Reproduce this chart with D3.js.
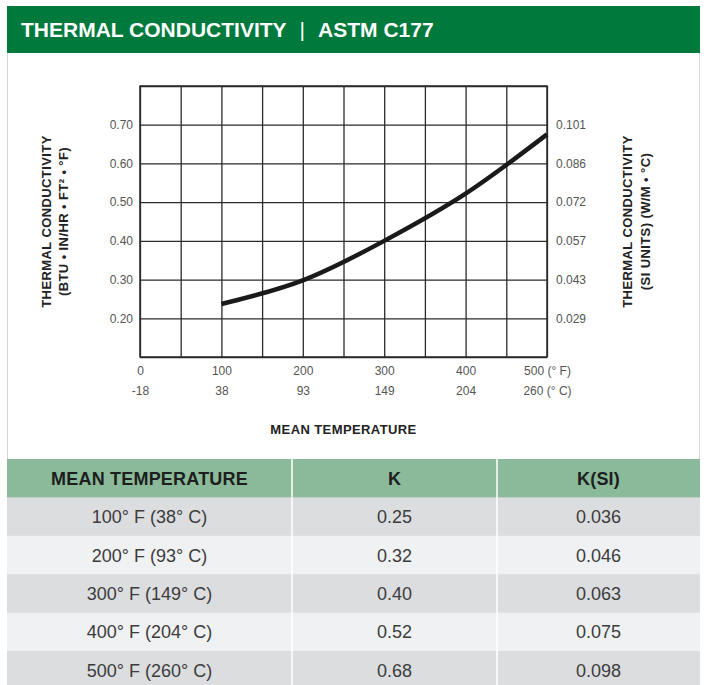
<!DOCTYPE html>
<html>
<head>
<meta charset="utf-8">
<script src="https://cdn.jsdelivr.net/npm/d3@7"></script>
<style>
  body { margin: 0; background: #fff; }
  text { font-family: "Liberation Sans", Arial, sans-serif; }
</style>
</head>
<body>
<svg id="chart"></svg>
<script>
// curve (mean temp in F -> k)
const curveTemps = [100, 200, 300, 400, 500];
const curveK = [0.237, 0.298, 0.40, 0.522, 0.675];

// axis ticks
const fTicks = [0, 100, 200, 300, 400, 500];
const fLabels = ["0", "100", "200", "300", "400", "500 (° F)"];
const cLabels = ["-18", "38", "93", "149", "204", "260 (° C)"];
const kTicks = [0.20, 0.30, 0.40, 0.50, 0.60, 0.70];
const kLabels = ["0.20", "0.30", "0.40", "0.50", "0.60", "0.70"];
const siLabels = ["0.029", "0.043", "0.057", "0.072", "0.086", "0.101"];

// table
const tableHead = ["MEAN TEMPERATURE", "K", "K(SI)"];
const tableTemps = ["100° F (38° C)", "200° F (93° C)", "300° F (149° C)", "400° F (204° C)", "500° F (260° C)"];
const tableK = ["0.25", "0.32", "0.40", "0.52", "0.68"];
const tableKSI = ["0.036", "0.046", "0.063", "0.075", "0.098"];

const W = 704, H = 685;
const svg = d3.select("#chart").attr("width", W).attr("height", H);

// panel borders
svg.append("line").attr("x1", 7.5).attr("x2", 7.5).attr("y1", 53).attr("y2", 459)
  .attr("stroke", "#d6d6d6");
svg.append("line").attr("x1", 699.5).attr("x2", 699.5).attr("y1", 53).attr("y2", 459)
  .attr("stroke", "#d6d6d6");

// title band
svg.append("rect").attr("x", 7).attr("y", 6).attr("width", 693).attr("height", 47)
  .attr("fill", "#00793d");
const title = svg.append("text").attr("x", 21).attr("y", 37)
  .attr("fill", "#fff").attr("font-weight", "bold").attr("font-size", 21);
title.append("tspan").text("THERMAL CONDUCTIVITY");
title.append("tspan").attr("dx", 13).attr("font-weight", "normal").text("|");
title.append("tspan").attr("dx", 13).text("ASTM C177");

// plot
const x = d3.scaleLinear().domain([0, 500]).range([140, 547]);
const y = d3.scaleLinear().domain([0.1, 0.8]).range([357, 86]);
const pw = x.range()[1] - x.range()[0];
const ph = y.range()[0] - y.range()[1];

const gridColor = "#2b2b2b";

// vertical grid
svg.append("g")
  .attr("transform", `translate(0, ${y.range()[1]})`)
  .call(d3.axisTop(x).tickValues(d3.range(0, 501, 50)).tickSize(-ph).tickFormat(""))
  .call(g => g.select(".domain").remove())
  .call(g => g.selectAll("line").attr("stroke", gridColor).attr("stroke-width", 1.3));

// horizontal grid
svg.append("g")
  .attr("transform", `translate(${x.range()[0]}, 0)`)
  .call(d3.axisLeft(y).tickValues(d3.range(0.1, 0.801, 0.1)).tickSize(-pw).tickFormat(""))
  .call(g => g.select(".domain").remove())
  .call(g => g.selectAll("line").attr("stroke", gridColor).attr("stroke-width", 1.3));

// frame
svg.append("rect").attr("x", x.range()[0]).attr("y", y.range()[1])
  .attr("width", pw).attr("height", ph)
  .attr("fill", "none").attr("stroke", gridColor).attr("stroke-width", 1.5);

const tickStyle = g => {
  g.select(".domain").remove();
  g.selectAll("line").remove();
  g.selectAll("text").attr("font-family", "Liberation Sans, Arial, sans-serif")
    .attr("font-size", 12).attr("fill", "#555");
};

// left axis
svg.append("g")
  .attr("transform", `translate(${x.range()[0]}, 0)`)
  .call(d3.axisLeft(y).tickValues(kTicks).tickSize(0).tickPadding(7)
    .tickFormat((d, i) => kLabels[i]))
  .call(tickStyle);

// right axis (SI units)
svg.append("g")
  .attr("transform", `translate(${x.range()[1]}, 0)`)
  .call(d3.axisRight(y).tickValues(kTicks).tickSize(0).tickPadding(9)
    .tickFormat((d, i) => siLabels[i]))
  .call(tickStyle);

// bottom axis, F row then C row
svg.append("g")
  .attr("transform", `translate(0, ${y.range()[0]})`)
  .call(d3.axisBottom(x).tickValues(fTicks).tickSize(0).tickPadding(9)
    .tickFormat((d, i) => fLabels[i]))
  .call(tickStyle);
svg.append("g")
  .attr("transform", `translate(0, ${y.range()[0] + 20})`)
  .call(d3.axisBottom(x).tickValues(fTicks).tickSize(0).tickPadding(9)
    .tickFormat((d, i) => cLabels[i]))
  .call(tickStyle);

// axis titles
const titleTxt = (sel) => sel.attr("font-weight", "bold").attr("font-size", 13)
  .attr("letter-spacing", 0.4).attr("fill", "#222").attr("text-anchor", "middle");
const cy = (y.range()[0] + y.range()[1]) / 2;

svg.append("text").call(titleTxt)
  .attr("x", (x.range()[0] + x.range()[1]) / 2).attr("y", 434)
  .text("MEAN TEMPERATURE");

svg.append("text").call(titleTxt)
  .attr("transform", `translate(51, ${cy}) rotate(-90)`)
  .text("THERMAL CONDUCTIVITY");
svg.append("text").call(titleTxt)
  .attr("transform", `translate(68, ${cy}) rotate(-90)`)
  .text("(BTU • IN/HR • FT² • °F)");

svg.append("text").call(titleTxt)
  .attr("transform", `translate(632, ${cy}) rotate(-90)`)
  .text("THERMAL CONDUCTIVITY");
svg.append("text").call(titleTxt)
  .attr("transform", `translate(650, ${cy}) rotate(-90)`)
  .text("(SI UNITS) (W/M • °C)");

// curve
const line = d3.line()
  .x((d, i) => x(curveTemps[i]))
  .y(d => y(d))
  .curve(d3.curveNatural);
svg.append("path")
  .datum(curveK)
  .attr("d", line)
  .attr("fill", "none")
  .attr("stroke", "#1a1a1a")
  .attr("stroke-width", 4.5);

// table
const colEdges = [7, 292, 497, 700];
const rowY = d3.scaleBand().domain(d3.range(6)).range([459, 459 + 6 * 38.4]);
const rowFill = ["#8bba9b", "#dcdddf", "#f0f1f3", "#dcdddf", "#f0f1f3", "#dcdddf"];

const table = svg.append("g");
table.selectAll("rect.row")
  .data(d3.range(6))
  .join("rect")
  .attr("class", "row")
  .attr("x", colEdges[0]).attr("width", colEdges[3] - colEdges[0])
  .attr("y", d => rowY(d)).attr("height", rowY.bandwidth() + 0.5)
  .attr("fill", d => rowFill[d]);

// column separators
table.selectAll("line.sep")
  .data([colEdges[1], colEdges[2]])
  .join("line")
  .attr("class", "sep")
  .attr("x1", d => d).attr("x2", d => d)
  .attr("y1", rowY(0)).attr("y2", H)
  .attr("stroke", "#fff").attr("stroke-width", 1.5);

const colCenter = i => (colEdges[i] + colEdges[i + 1]) / 2;

table.selectAll("text.head")
  .data(tableHead)
  .join("text")
  .attr("class", "head")
  .attr("x", (d, i) => colCenter(i))
  .attr("y", rowY(0) + rowY.bandwidth() / 2 + 6.5)
  .attr("text-anchor", "middle")
  .attr("font-weight", "bold").attr("font-size", 18)
  .attr("letter-spacing", 0.2)
  .attr("fill", "#1e1e1e")
  .text(d => d);

const cols = [tableTemps, tableK, tableKSI];
cols.forEach((vals, c) => {
  table.selectAll(`text.c${c}`)
    .data(vals)
    .join("text")
    .attr("class", `c${c}`)
    .attr("x", colCenter(c))
    .attr("y", (d, i) => rowY(i + 1) + rowY.bandwidth() / 2 + 6.5)
    .attr("text-anchor", "middle")
    .attr("font-size", 18)
    .attr("fill", "#3c3c3c")
    .text(d => d);
});
</script>
</body>
</html>
